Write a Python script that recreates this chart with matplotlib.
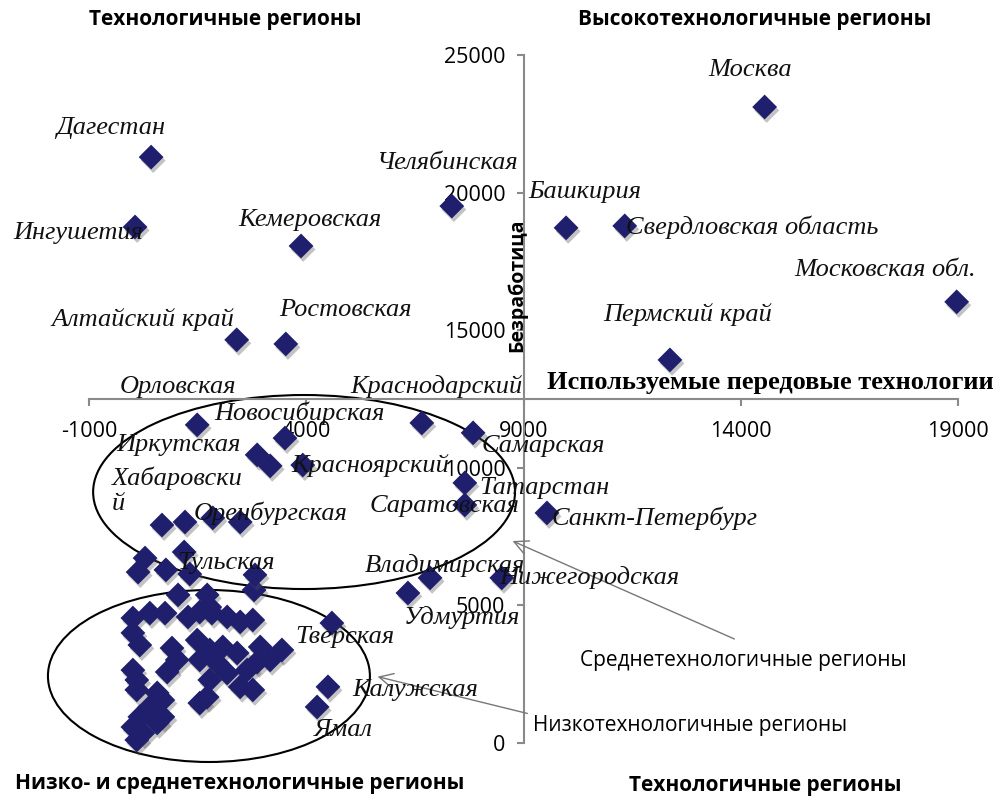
import numpy as np
import matplotlib
matplotlib.use("Agg")
import matplotlib.pyplot as plt
import matplotlib.patheffects as pe
from matplotlib.patches import Ellipse

plt.rcParams["axes.unicode_minus"] = False

# labelled regions: name, advanced technologies used, unemployment
names = ["Москва", "Дагестан", "Ингушетия", "Кемеровская", "Челябинская",
         "Башкирия", "Свердловская область", "Московская обл.", "Пермский край",
         "Алтайский край", "Ростовская", "Орловская", "Краснодарский",
         "Новосибирская", "Иркутская", "Хабаровски\nй", "Красноярский",
         "Самарская", "Татарстан", "Саратовская", "Санкт-Петербург",
         "Оренбургская", "Тульская", "Владимирская", "Нижегородская",
         "Удмуртия", "Тверская", "Калужская", "Ямал"]
tech = [14550, 430, 60, 3880, 7350,
        9980, 11330, 18970, 12370,
        2400, 3530, 1490, 6660,
        3510, 2870, 3170, 3920,
        7840, 7650, 7650, 9540,
        2480, 2820, 6850, 8500,
        6340, 4590, 4500, 4250]
unemp = [23110, 21290, 18750, 18060, 19510,
         18720, 18790, 16030, 13920,
         14650, 14500, 11560, 11630,
         11080, 10470, 10070, 10100,
         11270, 9450, 8650, 8360,
         8030, 6110, 6000, 6000,
         5450, 4360, 2040, 1310]

# unlabelled regions
other_tech = [680, 1210, 1850, 290, 130, 770, 1190, 1320, 2800, 1050, 1720,
              1780, 10, 400, 750, 1280, 1550, 1830, 2180, 2480, 2770, 10, 170,
              910, 1030, 800, 1490, 1780, 2080, 2410, 1550, 1950, 2940, 3440,
              3170, 2870, 2180, 2640, 1780, 2480, 2770, 1720, 1550, 10, 100,
              100, 570, 700, 400, 170, 10, 240, 570, 700, 100]
other_unemp = [7920, 8030, 8180, 6720, 6210, 6290, 6940, 6140, 5560, 5380, 5380,
               4940, 4540, 4720, 4720, 4580, 4760, 4720, 4580, 4400, 4470, 4000, 3560,
               3450, 3020, 2580, 3740, 3380, 3490, 3270, 3020, 2910, 3490, 3380,
               3020, 2940, 2540, 2650, 2290, 2040, 1930, 1670, 1450, 2650, 2290,
               1930, 1820, 1560, 1310, 950, 580, 360, 730, 950, 110]

# label offsets in pixels from the marker
offsets = {"Москва": (-15, 37), "Дагестан": (-41, 29), "Ингушетия": (-57, -6),
           "Кемеровская": (9, 26), "Челябинская": (-5, 43), "Башкирия": (19, 36),
           "Свердловская область": (127, -1), "Московская обл.": (-72, 32),
           "Пермский край": (18, 45), "Алтайский край": (-94, 20),
           "Ростовская": (60, 34), "Орловская": (-19, 38), "Краснодарский": (15, 36),
           "Новосибирская": (15, 25), "Иркутская": (-79, 10),
           "Хабаровски\nй": (-158, -25), "Красноярский": (67, 0),
           "Самарская": (70, -13), "Татарстан": (80, -5), "Саратовская": (-20, -1),
           "Санкт-Петербург": (108, -5), "Оренбургская": (30, 9),
           "Тульская": (-29, 12), "Владимирская": (15, 12),
           "Нижегородская": (88, 0), "Удмуртия": (54, -24), "Тверская": (13, -14),
           "Калужская": (87, -3), "Ямал": (26, -23)}

navy = "#1f1f6d"
sans = ["Open Sans", "DejaVu Sans"]
serif = ["Liberation Serif", "DejaVu Serif"]

fig = plt.figure(figsize=(10.01, 8), dpi=100)
ax = fig.add_axes([89 / 1001, 1 - 743 / 800, (958 - 89) / 1001, (743 - 55) / 800])
ax.set_xlim(-1000, 19000)
ax.set_ylim(0, 25000)

shadow = [pe.SimplePatchShadow(offset=(1.5, -2.5), shadow_rgbFace="#555555", alpha=0.35),
          pe.Normal()]
ax.scatter(other_tech, other_unemp, marker="D", s=160, color=navy, zorder=3,
           clip_on=False, path_effects=shadow, linewidths=0)
ax.scatter(tech, unemp, marker="D", s=160, color=navy, zorder=3,
           clip_on=False, path_effects=shadow, linewidths=0)

for n, x, y in zip(names, tech, unemp):
    dx, dy = offsets[n]
    ha = "left" if n.startswith("Хабаровск") else "center"
    ax.annotate(n, (x, y), xytext=(dx, dy), textcoords="offset pixels",
                ha=ha, va="center", fontsize=19, style="italic", family=serif,
                color="#111111", zorder=4, annotation_clip=False,
                multialignment="left")

# spines crossing inside the plot
for s in ["top", "right"]:
    ax.spines[s].set_visible(False)
ax.spines["bottom"].set_position(("data", 12500))
ax.spines["left"].set_position(("data", 9000))
for s in ["bottom", "left"]:
    ax.spines[s].set_color("#8a8a8a")
    ax.spines[s].set_linewidth(1.5)
ax.set_xticks([-1000, 4000, 9000, 14000, 19000])
ax.set_yticks([0, 5000, 10000, 15000, 20000, 25000])
ax.tick_params(axis="both", colors="#8a8a8a", length=5, width=1.5,
               labelcolor="black", labelsize=15.5)
ax.tick_params(axis="x", pad=11)
ax.tick_params(axis="y", pad=8)
for lab in ax.get_xticklabels() + ax.get_yticklabels():
    lab.set_family(sans)
ax.patch.set_alpha(0)

# ellipses around the clusters
ax.add_patch(Ellipse((3950, 9120), 9710, 7050, fill=False, lw=1.5,
                     color="black", zorder=2, clip_on=False))
ax.add_patch(Ellipse((1760, 2435), 7410, 6250, fill=False, lw=1.5,
                     color="black", zorder=2, clip_on=False))

ax.annotate("", xy=(8690, 7380), xytext=(13910, 3740),
            arrowprops=dict(arrowstyle="->", color="#777777", lw=1, mutation_scale=25),
            annotation_clip=False)
ax.annotate("", xy=(5580, 2435), xytext=(9150, 1050),
            arrowprops=dict(arrowstyle="->", color="#777777", lw=1, mutation_scale=25),
            annotation_clip=False)
ax.text(14050, 2980, "Среднетехнологичные регионы", ha="center", va="center",
        fontsize=15, family=sans)
ax.text(12830, 650, "Низкотехнологичные регионы", ha="center", va="center",
        fontsize=15, family=sans)

# axis titles and quadrant titles
fig.text(770 / 1001, 1 - 383 / 800, "Используемые передовые технологии",
         ha="center", va="center", fontsize=19, weight="bold", family=serif)
fig.text(517 / 1001, 1 - 285 / 800, "Безработица", rotation=90,
         ha="center", va="center", fontsize=14, weight="bold", family=sans)
fig.text(225 / 1001, 1 - 20 / 800, "Технологичные регионы", ha="center",
         va="center", fontsize=15, weight="bold", family=sans)
fig.text(755 / 1001, 1 - 20 / 800, "Высокотехнологичные регионы", ha="center",
         va="center", fontsize=15, weight="bold", family=sans)
fig.text(240 / 1001, 1 - 783 / 800, "Низко- и среднетехнологичные регионы",
         ha="center", va="center", fontsize=15, weight="bold", family=sans)
fig.text(765 / 1001, 1 - 785 / 800, "Технологичные регионы", ha="center",
         va="center", fontsize=15, weight="bold", family=sans)

fig.savefig("out.png", dpi=100)
